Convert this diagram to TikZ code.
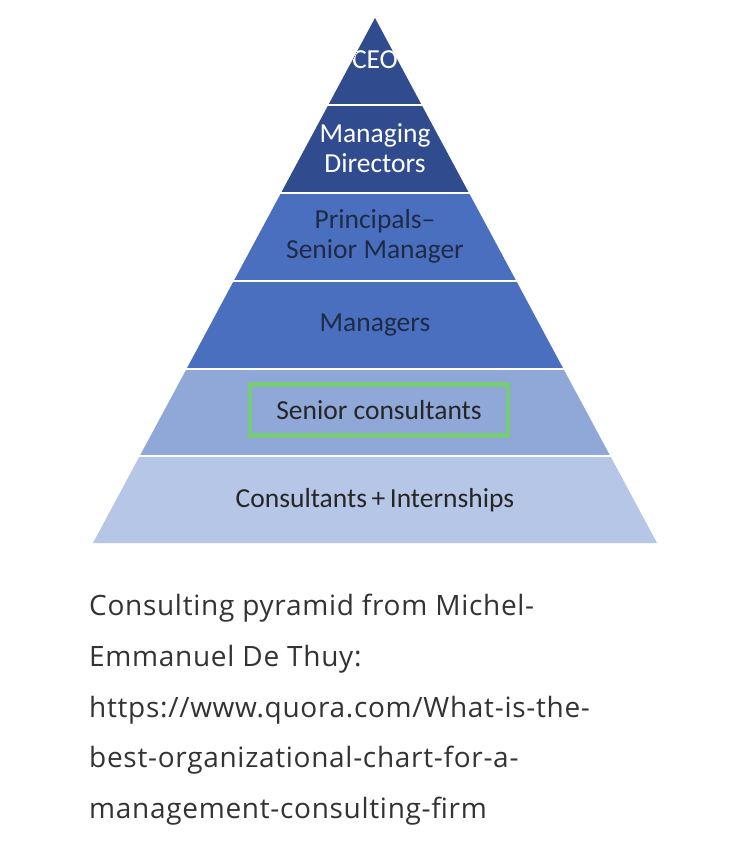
\documentclass[tikz,border=0pt]{standalone}
\usepackage{fontspec}
\setmainfont{Carlito}
\newfontfamily\capfont[LetterSpace=2.5]{Open Sans}
\begin{document}
\begin{tikzpicture}[x=1pt,y=-1pt,
  lbl/.style={font=\fontsize{27.5}{30}\selectfont, align=center, inner sep=0pt},
  lightlbl/.style={lbl, text=white},
  darklbl/.style={lbl, text=labeldark},
  sep/.style={draw=white, line width=2.5pt},
  caption/.style={font=\capfont\fontsize{28}{30}\selectfont, text=captiongray, anchor=base west, inner sep=0pt}]
\definecolor{layerA}{HTML}{304C8F}
\definecolor{layerB}{HTML}{4A6FBF}
\definecolor{layerC}{HTML}{8FA8D8}
\definecolor{layerD}{HTML}{B5C6E6}
\definecolor{labeldark}{HTML}{1E2B47}
\definecolor{captiongray}{HTML}{333333}
\definecolor{boxgreen}{HTML}{78CC78}
\useasboundingbox (0,0) rectangle (749,857);
\fill[white] (0,0) rectangle (749,857);
% layers
\fill[layerA] (375,18) -- (421.7,105) -- (328.3,105) -- cycle;
\fill[layerA] (328.3,105) -- (421.7,105) -- (469,193) -- (281,193) -- cycle;
\fill[layerB] (281,193) -- (469,193) -- (516.3,281) -- (233.7,281) -- cycle;
\fill[layerB] (233.7,281) -- (516.3,281) -- (563.5,369) -- (186.5,369) -- cycle;
\fill[layerC] (186.5,369) -- (563.5,369) -- (610.3,456) -- (139.7,456) -- cycle;
\fill[layerD] (139.7,456) -- (610.3,456) -- (657,543) -- (93,543) -- cycle;
% separators
\draw[sep] (326,105) -- (424,105);
\draw[sep] (279,193) -- (471,193);
\draw[sep] (231,281) -- (519,281);
\draw[sep] (184,369) -- (566,369);
\draw[sep] (137,456) -- (613,456);
% labels
\begin{scope}
\clip (375,18) -- (657,543) -- (93,543) -- cycle;
\node[lightlbl] (ceo) at (375,60) {CEO};
\end{scope}
\node[lightlbl] (md) at (375,148) {Managing\\Directors};
\node[darklbl] (pr) at (375,236) {Principals–\\Senior Manager};
\node[darklbl] (mg) at (375,325) {Managers};
\node[draw=boxgreen, line width=4.5pt, minimum width=258pt, minimum height=51pt, inner sep=0pt] (box) at (379,410) {};
\node[darklbl, text=black!85] (sc) at (box.center) {Senior consultants};
\node[darklbl, text=black!85] (ci) at (375,500) {Consultants\,+\,Internships};
% caption
\node[caption] (c1) at (89,615) {Consulting pyramid from Michel-};
\node[caption] (c2) at (89,666) {Emmanuel De Thuy:};
\node[caption] (c3) at (89,717) {https://www.quora.com/What-is-the-};
\node[caption] (c4) at (89,767) {best-organizational-chart-for-a-};
\node[caption] (c5) at (89,818) {management-consulting-firm};
\end{tikzpicture}
\end{document}
